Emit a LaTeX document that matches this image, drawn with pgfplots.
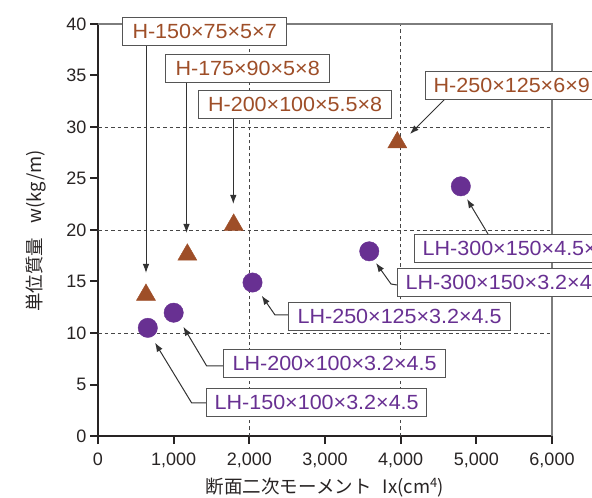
\documentclass[border=0pt]{standalone}
\usepackage{fontspec}
\setmainfont{Liberation Sans}
\newfontfamily\boxfont[FakeStretch=1.05]{Liberation Sans}
\newfontfamily\cjk{Noto Sans CJK JP}
\usepackage{pgfplots}
\pgfplotsset{compat=1.18}
\usetikzlibrary{arrows.meta}

\definecolor{hbrown}{RGB}{158,78,40}
\definecolor{lhpurple}{RGB}{104,48,146}
\definecolor{framegray}{RGB}{125,125,125}
\definecolor{boxgray}{RGB}{85,85,85}
\definecolor{txt}{RGB}{40,36,36}

\tikzset{
  gridline/.style={dash pattern=on 3.5bp off 3bp, line width=0.9bp, color={rgb,255:red,70;green,70;blue,70}},
  arr/.style={line width=1bp, color={rgb,255:red,50;green,50;blue,50}, -{Latex[length=9bp,width=6.5bp]}},
  lbl/.style={draw=boxgray, line width=1.3bp, fill=white, anchor=north west,
    minimum height=28bp, inner xsep=8bp, inner ysep=0pt,
    font=\boxfont\fontsize{20.5bp}{24bp}\selectfont},
}

\begin{document}
\begin{tikzpicture}
\begin{axis}[
  at={(0,0)}, anchor=south west,
  scale only axis, width=454bp, height=412bp,
  xmin=0, xmax=6000, ymin=0, ymax=40,
  xtick={0,1000,...,6000}, ytick={0,5,...,40},
  axis lines*=left,
  axis line style={line width=2.4bp, txt},
  tick align=outside, major tick length=8bp,
  tick style={line width=2bp, txt},
  scaled ticks=false,
  /pgf/number format/1000 sep={,},
  /pgf/number format/assume math mode=true,
  ticklabel style={font=\fontsize{18bp}{21bp}\selectfont, text=txt},
  xticklabel style={yshift=-5bp},
  clip=false,
]
% grid lines and top/right frame
\draw[gridline] (axis cs:0,10) -- (axis cs:6000,10);
\draw[gridline] (axis cs:0,20) -- (axis cs:6000,20);
\draw[gridline] (axis cs:0,30) -- (axis cs:6000,30);
\draw[gridline] (axis cs:2000,0) -- (axis cs:2000,40);
\draw[gridline] (axis cs:4000,0) -- (axis cs:4000,40);
\draw[framegray, line width=1.4bp] (axis cs:0,40) -- (axis cs:6000,40) -- (axis cs:6000,0);

% H sections
\addplot[only marks, mark=triangle*, mark size=11bp, color=hbrown]
  coordinates {(634,13.7) (1181,17.6) (1793,20.5) (3956,28.5)};
% LH sections
\addplot[only marks, mark=*, mark size=9.7bp, color=lhpurple]
  coordinates {(658,10.5) (1000,11.97) (2042,14.9) (3585,17.93) (4795,24.24)};
\end{axis}

% annotations in picture pixels (origin top left)
\begin{scope}[x=1bp, y=-1bp, shift={(-98bp,436bp)}]
\draw[arr] (146,45) -- (146,273);
\draw[arr] (186.5,82) -- (186.5,233);
\draw[arr] (233.3,118) -- (233.3,204);
\draw[arr] (445,99) -- (410,134);
\draw[arr] (488,234) -- (467,199);
\draw[arr] (397,285) -- (391,284) -- (376,263);
\draw[arr] (288,315) -- (275,315) -- (261.7,295.7);
\draw[arr] (223,366) -- (206.7,366) -- (183.3,326.7);
\draw[arr] (206,403) -- (191.7,403) -- (155,342.7);

\node[lbl, text=hbrown, minimum width=164bp] at (122,17) {H-150×75×5×7};
\node[lbl, text=hbrown, minimum width=164bp] at (165,54) {H-175×90×5×8};
\node[lbl, text=hbrown, minimum width=193bp] at (198,90) {H-200×100×5.5×8};
\node[lbl, text=hbrown] at (425,71) {H-250×125×6×9};
\node[lbl, text=lhpurple] at (414,234) {LH-300×150×4.5×6};
\node[lbl, text=lhpurple] at (397,268) {LH-300×150×3.2×4.5};
\node[lbl, text=lhpurple, minimum width=222bp] at (288,302) {LH-250×125×3.2×4.5};
\node[lbl, text=lhpurple, minimum width=222bp] at (223,349) {LH-200×100×3.2×4.5};
\node[lbl, text=lhpurple, minimum width=220bp] at (206,388) {LH-150×100×3.2×4.5};

\node[font=\cjk\fontsize{18.5bp}{22bp}\selectfont, text=txt] at (325,488)
  {断面二次モーメント\hspace{0.6em}Ix(cm\textsuperscript{4})};
\node[rotate=90, font=\cjk\fontsize{18.5bp}{22bp}\selectfont, text=txt] at (36,231)
  {単位質量\hspace{0.8em}w(kg/m)};

\pgfresetboundingbox
\path[use as bounding box] (0,0) rectangle (592,498);
\end{scope}
\end{tikzpicture}
\end{document}
